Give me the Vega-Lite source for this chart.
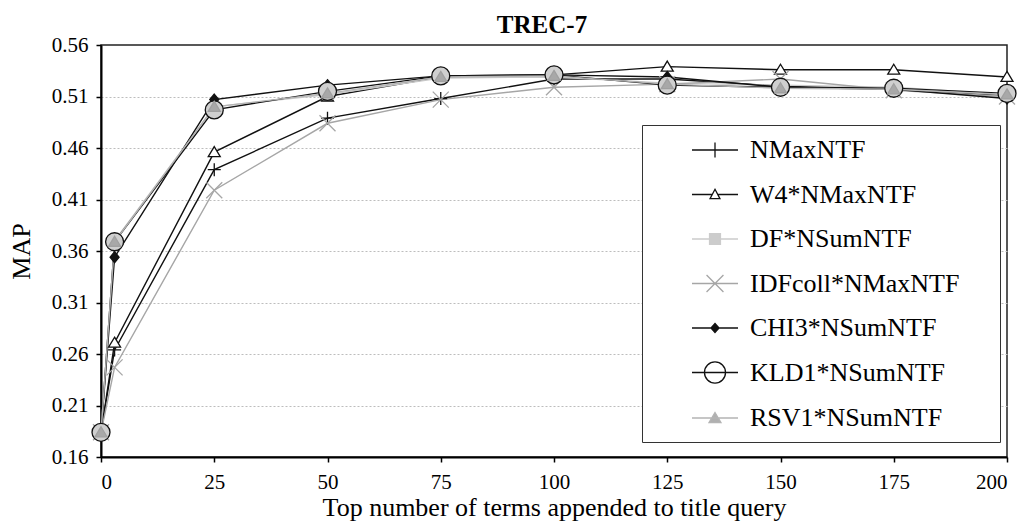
{
  "$schema": "https://vega.github.io/schema/vega-lite/v6.json",
  "width": 906,
  "height": 412,
  "autosize": {"type": "none"},
  "padding": {"left": 101, "top": 45, "right": 18, "bottom": 64},
  "background": "white",
  "title": {
    "text": "TREC-7",
    "font": "Liberation Serif",
    "fontSize": 25,
    "fontWeight": "bold",
    "color": "black",
    "anchor": "middle",
    "dx": -12,
    "offset": -4
  },
  "config": {
    "font": "Liberation Serif",
    "view": {"stroke": "#222", "strokeWidth": 1.5},
    "axis": {
      "labelFont": "Liberation Serif",
      "labelFontSize": 21,
      "labelColor": "black",
      "titleFont": "Liberation Serif",
      "titleFontSize": 26,
      "titleFontWeight": "normal",
      "titleColor": "black",
      "domainColor": "black",
      "domainWidth": 2,
      "tickColor": "black",
      "tickWidth": 1.5,
      "tickSize": 5
    }
  },
  "data": {
    "values": [
      {"series": "NMaxNTF", "terms": 0, "map": 0.184},
      {"series": "NMaxNTF", "terms": 3, "map": 0.264},
      {"series": "NMaxNTF", "terms": 25, "map": 0.439},
      {"series": "NMaxNTF", "terms": 50, "map": 0.489},
      {"series": "NMaxNTF", "terms": 75, "map": 0.508},
      {"series": "NMaxNTF", "terms": 100, "map": 0.527},
      {"series": "NMaxNTF", "terms": 125, "map": 0.527},
      {"series": "NMaxNTF", "terms": 150, "map": 0.520},
      {"series": "NMaxNTF", "terms": 175, "map": 0.517},
      {"series": "NMaxNTF", "terms": 200, "map": 0.511},
      {"series": "W4*NMaxNTF", "terms": 0, "map": 0.184},
      {"series": "W4*NMaxNTF", "terms": 3, "map": 0.271},
      {"series": "W4*NMaxNTF", "terms": 25, "map": 0.456},
      {"series": "W4*NMaxNTF", "terms": 50, "map": 0.510},
      {"series": "W4*NMaxNTF", "terms": 75, "map": 0.529},
      {"series": "W4*NMaxNTF", "terms": 100, "map": 0.531},
      {"series": "W4*NMaxNTF", "terms": 125, "map": 0.539},
      {"series": "W4*NMaxNTF", "terms": 150, "map": 0.536},
      {"series": "W4*NMaxNTF", "terms": 175, "map": 0.536},
      {"series": "W4*NMaxNTF", "terms": 200, "map": 0.529},
      {"series": "DF*NSumNTF", "terms": 0, "map": 0.184},
      {"series": "DF*NSumNTF", "terms": 3, "map": 0.370},
      {"series": "DF*NSumNTF", "terms": 25, "map": 0.500},
      {"series": "DF*NSumNTF", "terms": 50, "map": 0.512},
      {"series": "DF*NSumNTF", "terms": 75, "map": 0.528},
      {"series": "DF*NSumNTF", "terms": 100, "map": 0.529},
      {"series": "DF*NSumNTF", "terms": 125, "map": 0.523},
      {"series": "DF*NSumNTF", "terms": 150, "map": 0.521},
      {"series": "DF*NSumNTF", "terms": 175, "map": 0.519},
      {"series": "DF*NSumNTF", "terms": 200, "map": 0.512},
      {"series": "IDFcoll*NMaxNTF", "terms": 0, "map": 0.184},
      {"series": "IDFcoll*NMaxNTF", "terms": 3, "map": 0.247},
      {"series": "IDFcoll*NMaxNTF", "terms": 25, "map": 0.419},
      {"series": "IDFcoll*NMaxNTF", "terms": 50, "map": 0.484},
      {"series": "IDFcoll*NMaxNTF", "terms": 75, "map": 0.507},
      {"series": "IDFcoll*NMaxNTF", "terms": 100, "map": 0.519},
      {"series": "IDFcoll*NMaxNTF", "terms": 125, "map": 0.522},
      {"series": "IDFcoll*NMaxNTF", "terms": 150, "map": 0.527},
      {"series": "IDFcoll*NMaxNTF", "terms": 175, "map": 0.516},
      {"series": "IDFcoll*NMaxNTF", "terms": 200, "map": 0.510},
      {"series": "CHI3*NSumNTF", "terms": 0, "map": 0.184},
      {"series": "CHI3*NSumNTF", "terms": 3, "map": 0.354},
      {"series": "CHI3*NSumNTF", "terms": 25, "map": 0.507},
      {"series": "CHI3*NSumNTF", "terms": 50, "map": 0.521},
      {"series": "CHI3*NSumNTF", "terms": 75, "map": 0.530},
      {"series": "CHI3*NSumNTF", "terms": 100, "map": 0.531},
      {"series": "CHI3*NSumNTF", "terms": 125, "map": 0.529},
      {"series": "CHI3*NSumNTF", "terms": 150, "map": 0.519},
      {"series": "CHI3*NSumNTF", "terms": 175, "map": 0.517},
      {"series": "CHI3*NSumNTF", "terms": 200, "map": 0.508},
      {"series": "KLD1*NSumNTF", "terms": 0, "map": 0.184},
      {"series": "KLD1*NSumNTF", "terms": 3, "map": 0.369},
      {"series": "KLD1*NSumNTF", "terms": 25, "map": 0.497},
      {"series": "KLD1*NSumNTF", "terms": 50, "map": 0.515},
      {"series": "KLD1*NSumNTF", "terms": 75, "map": 0.530},
      {"series": "KLD1*NSumNTF", "terms": 100, "map": 0.531},
      {"series": "KLD1*NSumNTF", "terms": 125, "map": 0.521},
      {"series": "KLD1*NSumNTF", "terms": 150, "map": 0.519},
      {"series": "KLD1*NSumNTF", "terms": 175, "map": 0.518},
      {"series": "KLD1*NSumNTF", "terms": 200, "map": 0.513},
      {"series": "RSV1*NSumNTF", "terms": 0, "map": 0.184},
      {"series": "RSV1*NSumNTF", "terms": 3, "map": 0.369},
      {"series": "RSV1*NSumNTF", "terms": 25, "map": 0.500},
      {"series": "RSV1*NSumNTF", "terms": 50, "map": 0.513},
      {"series": "RSV1*NSumNTF", "terms": 75, "map": 0.529},
      {"series": "RSV1*NSumNTF", "terms": 100, "map": 0.530},
      {"series": "RSV1*NSumNTF", "terms": 125, "map": 0.522},
      {"series": "RSV1*NSumNTF", "terms": 150, "map": 0.518},
      {"series": "RSV1*NSumNTF", "terms": 175, "map": 0.517},
      {"series": "RSV1*NSumNTF", "terms": 200, "map": 0.512}
    ]
  },
  "encoding": {
    "x": {
      "field": "terms",
      "type": "quantitative",
      "scale": {"domain": [0, 200], "nice": false, "zero": false},
      "axis": {
        "title": "Top number of terms appended to title query",
        "values": [0, 25, 50, 75, 100, 125, 150, 175, 200],
        "grid": false,
        "labelPadding": 9,
        "titlePadding": 2
      }
    },
    "y": {
      "field": "map",
      "type": "quantitative",
      "scale": {"domain": [0.16, 0.56], "nice": false, "zero": false},
      "axis": {
        "title": "MAP",
        "values": [0.16, 0.21, 0.26, 0.31, 0.36, 0.41, 0.46, 0.51, 0.56],
        "format": ".2f",
        "grid": true,
        "gridColor": {"condition": {"test": "datum.value > 0.555 || datum.value < 0.165", "value": "transparent"}, "value": "#bdbdbd"},
        "gridDash": [2, 2],
        "gridWidth": 1,
        "labelPadding": 8,
        "titlePadding": 17
      }
    }
  },
  "layer": [
    {
      "mark": {"type": "line", "strokeWidth": 1.4},
      "encoding": {
        "stroke": {
          "field": "series",
          "type": "nominal",
          "scale": {
            "domain": ["NMaxNTF", "W4*NMaxNTF", "DF*NSumNTF", "IDFcoll*NMaxNTF", "CHI3*NSumNTF", "KLD1*NSumNTF", "RSV1*NSumNTF"],
            "range": ["#111111", "#111111", "#c8c8c8", "#a6a6a6", "#111111", "#111111", "#b4b4b4"]
          },
          "legend": null
        }
      }
    },
    {
      "mark": {"type": "point", "size": 100, "strokeWidth": 1.3, "opacity": 1},
      "encoding": {
        "shape": {
          "field": "series",
          "type": "nominal",
          "scale": {
            "domain": ["NMaxNTF", "W4*NMaxNTF", "DF*NSumNTF", "IDFcoll*NMaxNTF", "CHI3*NSumNTF", "KLD1*NSumNTF", "RSV1*NSumNTF"],
            "range": [
              "M-1.3,0H1.3M0,-1.3V1.3",
              "M0,-1.1L1.2,0.9H-1.2Z",
              "M-1,-1H1V1H-1Z",
              "M-1.6,-1.6L1.6,1.6M-1.6,1.6L1.6,-1.6",
              "M0,-1.1L0.9,0L0,1.1L-0.9,0Z",
              "M-1.8,0A1.8,1.8,0,1,0,1.8,0A1.8,1.8,0,1,0,-1.8,0Z",
              "M0,-1.1L1.2,0.9H-1.2Z"
            ]
          },
          "legend": null
        },
        "fill": {
          "field": "series",
          "type": "nominal",
          "scale": {
            "domain": ["NMaxNTF", "W4*NMaxNTF", "DF*NSumNTF", "IDFcoll*NMaxNTF", "CHI3*NSumNTF", "KLD1*NSumNTF", "RSV1*NSumNTF"],
            "range": ["transparent", "white", "#c8c8c8", "transparent", "#111111", "#cfcfcf", "#a8a8a8"]
          },
          "legend": null
        },
        "stroke": {
          "field": "series",
          "type": "nominal",
          "scale": {
            "domain": ["NMaxNTF", "W4*NMaxNTF", "DF*NSumNTF", "IDFcoll*NMaxNTF", "CHI3*NSumNTF", "KLD1*NSumNTF", "RSV1*NSumNTF"],
            "range": ["#111111", "#111111", "#c8c8c8", "#a6a6a6", "#111111", "#111111", "#a0a0a0"]
          },
          "legend": null
        }
      }
    },
    {
      "mark": {"type": "point", "size": 676, "opacity": 0},
      "encoding": {
        "shape": {
          "field": "series",
          "type": "nominal",
          "scale": {
            "domain": ["NMaxNTF", "W4*NMaxNTF", "DF*NSumNTF", "IDFcoll*NMaxNTF", "CHI3*NSumNTF", "KLD1*NSumNTF", "RSV1*NSumNTF"],
            "range": [
              "M-1.77,0H1.77M0,-0.58V0.58M20.8,0",
              "M-1.77,0H-0.21M0.21,0H1.77M0,-0.4L0.38,0.32H-0.38Z",
              "M-1.77,0H1.77M-0.42,-0.42H0.42V0.42H-0.42Z",
              "M-1.77,0H1.77M-0.65,-0.65L0.65,0.65M-0.65,0.65L0.65,-0.65",
              "M-1.77,0H1.77M0,-0.35L0.31,0L0,0.35L-0.31,0Z",
              "M-1.77,0H1.77M-0.81,0A0.81,0.81,0,1,0,0.81,0A0.81,0.81,0,1,0,-0.81,0Z",
              "M-1.77,0H1.77M0,-0.42L0.46,0.35H-0.46Z"
            ]
          },
          "legend": {
            "title": null,
            "orient": "none",
            "legendX": 541,
            "legendY": 80,
            "padding": 11,
            "rowPadding": 17.5,
            "symbolSize": 676,
            "symbolOffset": 48,
            "labelOffset": 21,
            "symbolStrokeWidth": 1.3,
            "symbolOpacity": 1,
            "labelFont": "Liberation Serif",
            "labelFontSize": 26,
            "labelColor": "black",
            "labelLimit": 600,
            "strokeColor": "#333",
            "fillColor": "white"
          }
        },
        "fill": {
          "field": "series",
          "type": "nominal",
          "scale": {
            "domain": ["NMaxNTF", "W4*NMaxNTF", "DF*NSumNTF", "IDFcoll*NMaxNTF", "CHI3*NSumNTF", "KLD1*NSumNTF", "RSV1*NSumNTF"],
            "range": ["transparent", "white", "#cccccc", "transparent", "#111111", "transparent", "#b0b0b0"]
          },
          "legend": {
            "title": null,
            "orient": "none",
            "legendX": 541,
            "legendY": 80,
            "padding": 11,
            "rowPadding": 17.5,
            "symbolSize": 676,
            "symbolOffset": 48,
            "labelOffset": 21,
            "symbolStrokeWidth": 1.3,
            "symbolOpacity": 1,
            "labelFont": "Liberation Serif",
            "labelFontSize": 26,
            "labelColor": "black",
            "labelLimit": 600,
            "strokeColor": "#333",
            "fillColor": "white"
          }
        },
        "stroke": {
          "field": "series",
          "type": "nominal",
          "scale": {
            "domain": ["NMaxNTF", "W4*NMaxNTF", "DF*NSumNTF", "IDFcoll*NMaxNTF", "CHI3*NSumNTF", "KLD1*NSumNTF", "RSV1*NSumNTF"],
            "range": ["#111111", "#111111", "#cccccc", "#a6a6a6", "#111111", "#111111", "#b4b4b4"]
          },
          "legend": {
            "title": null,
            "orient": "none",
            "legendX": 541,
            "legendY": 80,
            "padding": 11,
            "rowPadding": 17.5,
            "symbolSize": 676,
            "symbolOffset": 48,
            "labelOffset": 21,
            "symbolStrokeWidth": 1.3,
            "symbolOpacity": 1,
            "labelFont": "Liberation Serif",
            "labelFontSize": 26,
            "labelColor": "black",
            "labelLimit": 600,
            "strokeColor": "#333",
            "fillColor": "white"
          }
        }
      }
    }
  ],
  "resolve": {
    "scale": {"shape": "independent", "fill": "independent", "stroke": "independent"}
  }
}
